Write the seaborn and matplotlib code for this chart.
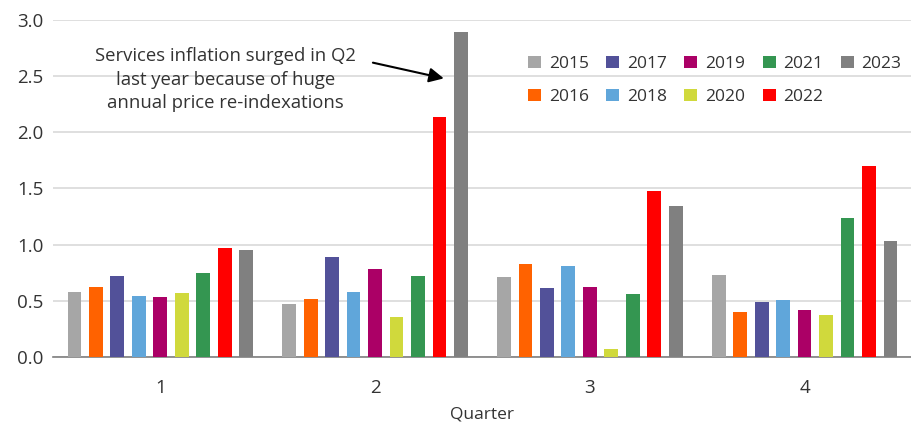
import matplotlib
matplotlib.use("Agg")
import matplotlib.pyplot as plt
import numpy as np
import pandas as pd
import seaborn as sns

quarters = ["1", "2", "3", "4"]
years = ["2015", "2016", "2017", "2018", "2019", "2020", "2021", "2022", "2023"]
values = {
    "2015": [0.58, 0.47, 0.71, 0.73],
    "2016": [0.62, 0.52, 0.83, 0.40],
    "2017": [0.72, 0.89, 0.61, 0.49],
    "2018": [0.54, 0.58, 0.81, 0.51],
    "2019": [0.53, 0.78, 0.62, 0.42],
    "2020": [0.57, 0.36, 0.07, 0.37],
    "2021": [0.75, 0.72, 0.56, 1.24],
    "2022": [0.97, 2.14, 1.48, 1.70],
    "2023": [0.95, 2.89, 1.34, 1.03],
}
colors = ["#A6A6A6", "#FF6200", "#525199", "#60A6DA", "#AB0066",
          "#D0D93C", "#349651", "#FF0000", "#808080"]
note = "Services inflation surged in Q2\nlast year because of huge\nannual price re-indexations"

rows = []
for y in years:
    for q, v in zip(quarters, values[y]):
        rows.append({"Quarter": q, "Year": y, "value": v})
df = pd.DataFrame(rows)

sns.set_style("white")
plt.rcParams["font.family"] = ["Open Sans", "DejaVu Sans"]

fig = plt.figure(figsize=(9.12, 4.25), dpi=100)
ax = fig.add_axes([0.058, 0.16, 0.942, 0.793])

sns.barplot(data=df, x="Quarter", y="value", hue="Year", order=quarters,
            hue_order=years, palette=colors, width=0.9, gap=0.36,
            saturation=1, linewidth=0, ax=ax, zorder=3)

ax.set_ylim(0, 3.0)
ticks = np.arange(0, 3.01, 0.5)
ax.set_yticks(ticks)
ax.set_yticklabels([f"{t:.1f}" for t in ticks])
ax.set_xlim(-0.5, 3.44)
ax.yaxis.grid(True, color="#D9D9D9", linewidth=1.2, zorder=0)
ax.set_axisbelow(True)
for s in ["left", "right", "top"]:
    ax.spines[s].set_visible(False)
ax.spines["bottom"].set_color("#7F7F7F")
ax.spines["bottom"].set_linewidth(1.2)

ax.tick_params(axis="y", length=0, labelsize=13.5, colors="#333333", pad=7)
ax.tick_params(axis="x", which="major", length=0, labelsize=13.5,
               colors="#333333", pad=16)
ax.set_xticks(np.arange(-0.5, 4, 1), minor=True)
ax.tick_params(axis="x", which="minor", length=8, width=1.2, color="#7F7F7F")
ax.set_xlabel("Quarter", fontsize=12.5, color="#333333", labelpad=7)
ax.set_ylabel("")

ax.legend(ncol=5, loc="upper right", bbox_to_anchor=(1.0, 0.925), frameon=False,
          fontsize=12.5, handlelength=0.75, handleheight=0.75, handletextpad=0.45,
          columnspacing=1.0, labelspacing=0.95, borderaxespad=0.2,
          labelcolor="#333333")

ax.text(0.303, 2.47, note, ha="center", va="center", fontsize=13.3,
        color="#333333", linespacing=1.4)
ax.annotate("", xy=(1.32, 2.48), xytext=(0.99, 2.62),
            arrowprops=dict(arrowstyle="-|>", color="black", lw=1.5,
                            shrinkA=0, shrinkB=0, mutation_scale=22))

fig.savefig("out.png", dpi=100)
